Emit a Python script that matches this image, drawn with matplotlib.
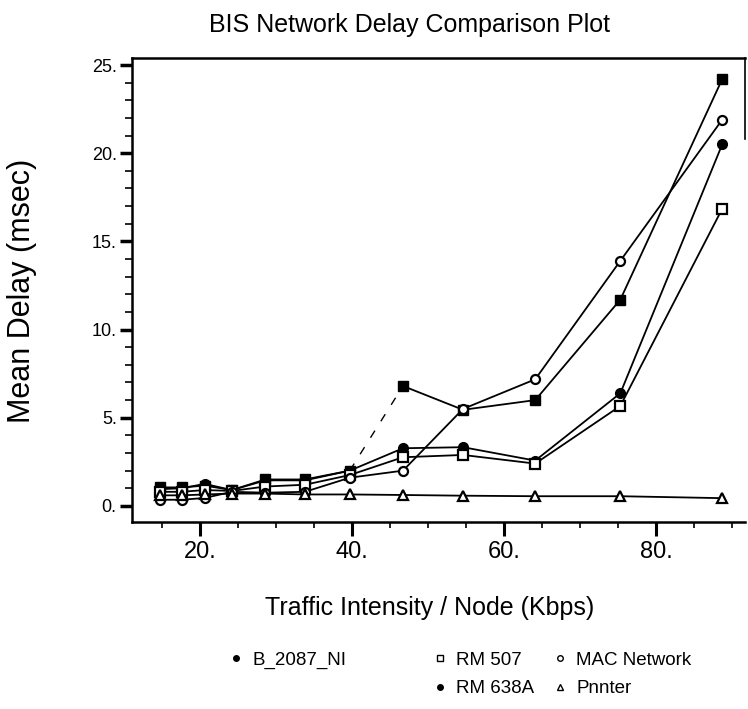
import matplotlib
matplotlib.use("Agg")
import matplotlib.pyplot as plt
from matplotlib.lines import Line2D
from matplotlib.ticker import FixedLocator, MultipleLocator, FuncFormatter

plt.rcParams['font.family'] = ['Liberation Sans', 'DejaVu Sans']

# ---- data ----
traffic = [14.7, 17.6, 20.6, 24.2, 28.6, 33.8, 39.7, 46.7, 54.6, 64.1, 75.3, 88.7]
b2087_ni = [1.05, 1.05, 1.15, 0.9, 1.5, 1.5, 2.0, 6.8, 5.45, 6.0, 11.7, 24.2]
rm_638a = [0.95, 1.0, 1.25, 0.9, 1.45, 1.45, 2.0, 3.27, 3.33, 2.57, 6.39, 20.5]
rm_507 = [0.8, 0.8, 0.9, 0.85, 1.1, 1.2, 1.75, 2.76, 2.89, 2.4, 5.67, 16.85]
mac_network = [0.35, 0.35, 0.45, 0.8, 0.75, 0.8, 1.6, 2.0, 5.5, 7.18, 13.9, 21.9]
printer = [0.6, 0.6, 0.65, 0.7, 0.7, 0.65, 0.65, 0.62, 0.58, 0.55, 0.55, 0.44]

x_ticks = [20, 40, 60, 80]
y_ticks = [0, 5, 10, 15, 20, 25]
series_names = ["B_2087_NI", "RM 507", "MAC Network", "RM 638A", "Pnnter"]

fig = plt.figure(figsize=(7.48, 7.09), dpi=100)
ax = fig.add_axes([0.1765, 0.2638, 0.8195, 0.6544])

lw = 1.3
# B_2087_NI: solid except broken segment between 40 and 47
ax.plot(traffic[:7], b2087_ni[:7], color='black', lw=lw)
ax.plot(traffic[6:8], b2087_ni[6:8], color='black', lw=1.0, ls=(0, (6, 8)))
ax.plot(traffic[7:], b2087_ni[7:], color='black', lw=lw)
ax.plot(traffic, b2087_ni, ls='none', marker='s', ms=7, mfc='black', mec='black')

ax.plot(traffic, rm_638a, color='black', lw=lw, marker='o', ms=7,
        mfc='black', mec='black')
ax.plot(traffic, rm_507, color='black', lw=lw, marker='s', ms=6.5,
        mfc='white', mec='black', mew=1.6)
ax.plot(traffic, mac_network, color='black', lw=lw, marker='o', ms=6.5,
        mfc='white', mec='black', mew=1.6)
ax.plot(traffic, printer, color='black', lw=lw, marker='^', ms=6.5,
        mfc='white', mec='black', mew=1.6)

ax.set_xlim(11.05, 91.7)
ax.set_ylim(-0.91, 25.4)

for s in ['left', 'bottom', 'top']:
    ax.spines[s].set_linewidth(1.8)
ax.spines['right'].set_linewidth(1.2)
ax.spines['right'].set_bounds(20.8, 25.4)

ax.xaxis.set_major_locator(FixedLocator(x_ticks))
ax.xaxis.set_minor_locator(MultipleLocator(5))
ax.yaxis.set_major_locator(FixedLocator(y_ticks))
ax.yaxis.set_minor_locator(MultipleLocator(1))
fmt = FuncFormatter(lambda v, p: f"{v:.0f}.")
ax.xaxis.set_major_formatter(fmt)
ax.yaxis.set_major_formatter(fmt)

ax.tick_params(axis='x', which='major', direction='out', length=10, width=2.2,
               labelsize=17, pad=4)
ax.tick_params(axis='x', which='minor', direction='out', length=4, width=1.2)
ax.tick_params(axis='y', which='major', direction='out', length=9, width=2.5,
               labelsize=13, pad=2)
ax.tick_params(axis='y', which='minor', direction='out', length=5, width=1.2)
ax.tick_params(top=False, right=False, which='both')

fig.text(0.548, 0.965, "BIS Network Delay Comparison Plot", ha='center',
         va='center', fontsize=18)
fig.text(0.03, 0.59, "Mean Delay (msec)", ha='center', va='center',
         rotation=90, fontsize=22)
fig.text(0.575, 0.142, "Traffic Intensity / Node (Kbps)", ha='center',
         va='center', fontsize=18)

def mk(marker, filled):
    return Line2D([], [], ls='none', marker=marker, ms=4,
                  mfc='black' if filled else 'white', mec='black', mew=1)

legend_cols = [
    (0.307, [mk('o', True)], [series_names[0]]),
    (0.580, [mk('s', False), mk('o', True)], [series_names[1], series_names[3]]),
    (0.740, [mk('o', False), mk('^', False)], [series_names[2], series_names[4]]),
]
for xpos, hs, ls_ in legend_cols:
    fig.legend(hs, ls_, loc='upper left', bbox_to_anchor=(xpos, 0.081),
               frameon=False, fontsize=13.5, handlelength=0.7,
               handletextpad=0.5, labelspacing=0.6, borderpad=0,
               borderaxespad=0)

fig.savefig("out.png", dpi=100)
